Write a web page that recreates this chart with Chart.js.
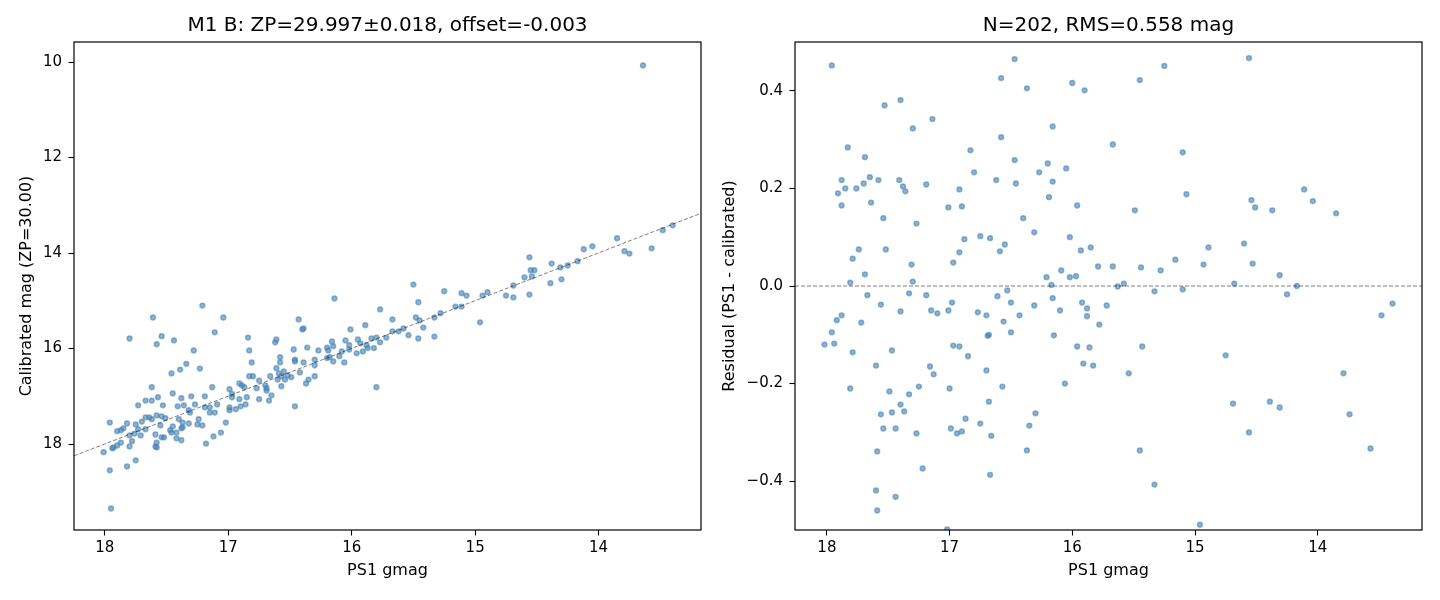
<!DOCTYPE html>
<html>
<head>
<meta charset="utf-8">
<title>M1 B calibration</title>
<script src="https://cdn.jsdelivr.net/npm/chart.js@4.4.1/dist/chart.umd.min.js"></script>
<style>
  html, body { margin: 0; padding: 0; background: #fff; }
  #wrap { position: relative; width: 1440px; height: 600px; }
  .panel { position: absolute; top: 0; width: 720px; height: 600px; }
</style>
</head>
<body>
<div id="wrap">
  <div class="panel" style="left:0"><canvas id="calChart" width="720" height="600"></canvas></div>
  <div class="panel" style="left:720px"><canvas id="resChart" width="720" height="600"></canvas></div>
</div>
<script>
// left panel: PS1 gmag vs calibrated mag
const calGmag = [
  17.21,17.61,17.04,17.80,17.54,17.58,17.44,17.11,16.84,16.83,
  17.28,16.81,17.34,17.39,17.23,17.46,16.83,16.80,17.62,17.45,
  17.13,16.99,16.91,16.89,16.87,16.97,16.97,16.91,16.85,17.67,
  17.62,17.57,17.38,17.30,17.19,17.73,17.53,17.41,17.36,17.27,
  17.19,17.15,17.15,17.11,17.09,16.99,16.99,16.94,16.90,16.86,
  17.67,17.64,17.62,17.58,17.54,17.51,17.40,17.31,17.32,17.96,
  17.82,17.75,17.70,17.55,17.45,17.37,17.32,17.24,17.25,17.21,
  17.02,17.90,17.87,17.85,17.80,17.76,17.73,17.67,17.71,17.59,
  17.54,17.52,17.47,17.46,17.42,17.38,17.37,17.12,17.06,17.87,
  17.93,17.94,17.90,17.80,17.78,17.59,17.58,17.58,17.42,17.38,
  17.18,18.01,17.96,17.82,17.75,17.95,
  15.50,16.14,15.46,15.77,16.43,16.40,16.39,15.89,15.67,15.48,
  16.01,16.62,16.61,16.47,16.36,16.27,16.20,16.16,16.15,16.19,
  16.05,16.02,15.95,15.93,15.84,15.80,15.72,15.67,15.62,15.58,
  15.54,15.46,15.77,15.88,15.87,15.91,15.96,15.82,16.02,16.08,
  16.10,16.15,16.18,16.20,16.30,16.39,16.46,16.46,16.58,16.58,
  16.61,16.55,16.30,16.06,16.75,16.77,16.70,16.69,16.69,16.65,
  16.67,16.75,16.66,16.59,16.57,16.54,16.60,16.52,16.49,16.42,
  16.35,16.37,16.30,16.57,16.46,15.80,
  13.64,15.45,15.42,15.33,15.33,15.28,15.25,15.16,15.11,15.11,
  15.07,14.96,14.94,14.90,14.75,14.69,14.69,14.60,14.56,14.56,
  14.55,14.52,14.54,14.39,14.38,14.30,14.31,14.25,14.17,14.12,
  14.05,13.85,13.79,13.75,13.57,13.48,13.40
];
const calMag = [
  15.10,15.35,15.35,15.79,15.74,15.91,15.83,15.66,15.77,16.04,
  16.04,16.29,16.32,16.44,16.42,16.52,16.58,16.58,16.81,16.94,
  16.81,16.85,16.73,16.77,16.81,16.95,17.02,17.06,17.02,17.09,
  17.09,17.02,17.04,17.00,17.00,17.19,17.19,17.21,17.19,17.17,
  17.23,17.23,17.34,17.34,17.17,17.23,17.29,17.27,17.21,17.17,
  17.44,17.44,17.48,17.40,17.42,17.46,17.48,17.34,17.29,17.55,
  17.57,17.59,17.53,17.61,17.63,17.55,17.57,17.48,17.59,17.61,
  17.55,17.73,17.71,17.67,17.82,17.78,17.69,17.69,17.82,17.80,
  17.86,17.86,17.71,17.76,17.76,17.67,17.65,17.84,17.76,17.97,
  18.07,18.09,18.03,18.05,17.94,18.05,18.07,17.97,17.88,17.92,
  17.99,18.17,18.55,18.47,18.34,19.35,
  14.66,14.95,15.03,15.18,15.39,15.60,15.58,15.51,15.39,15.35,
  15.60,15.87,15.81,16.02,15.98,16.04,15.98,15.85,15.95,16.04,
  15.83,15.93,15.81,15.89,15.79,15.77,15.77,15.64,15.64,15.58,
  15.72,15.79,15.87,15.93,15.99,16.06,16.10,15.99,16.02,16.06,
  16.16,16.27,16.18,16.20,16.23,16.29,16.23,16.27,16.18,16.29,
  16.41,16.48,16.35,16.29,16.67,16.83,16.77,16.83,16.88,16.98,
  17.09,17.06,16.58,16.52,16.58,16.65,16.65,16.56,16.60,16.50,
  16.65,16.73,16.58,16.79,17.21,16.81,
  10.07,15.41,15.56,15.35,15.75,15.26,14.80,15.12,15.12,14.84,
  14.89,15.45,14.89,14.82,14.89,14.93,14.68,14.51,14.09,14.87,
  14.36,14.36,14.49,14.63,14.22,14.55,14.30,14.26,14.17,13.92,
  13.86,13.69,13.96,14.01,13.90,13.52,13.42
];
// fitted relation y = x + offset
const fitX = [18.25, 13.17];
const fitY = [18.247, 13.167];

// right panel: residuals PS1 - calibrated
const resGmag = [
  17.96,17.53,17.40,17.14,17.30,17.83,17.69,17.88,17.85,17.91,
  17.88,17.76,17.70,17.65,17.64,17.58,17.41,17.38,17.36,17.19,
  17.54,17.27,17.01,17.74,17.52,17.79,17.31,16.97,17.69,17.81,17.30,
  17.67,17.56,17.33,17.19,17.40,17.15,17.10,17.01,16.98,17.88,
  17.92,17.72,17.96,18.02,17.94,17.79,17.47,16.97,17.60,17.16,
  17.13,17.81,17.49,17.33,17.25,17.00,17.40,17.47,17.37,17.56,
  17.54,17.44,17.27,16.99,16.94,17.59,17.22,17.60,17.44,17.59,17.02,
  16.47,16.58,16.37,16.00,15.90,16.16,16.58,16.83,15.67,16.47,
  16.20,16.05,16.80,16.27,16.62,16.46,16.16,16.92,16.90,16.19,
  15.96,16.40,16.31,16.88,16.75,16.67,16.55,16.59,16.92,16.02,
  15.93,15.85,15.79,15.67,16.21,16.09,16.02,15.97,16.17,
  16.53,16.61,16.50,16.16,16.31,15.92,15.88,15.72,16.10,16.77,
  16.70,16.43,16.56,15.88,15.78,16.69,16.68,16.50,16.15,15.96,
  15.86,16.92,16.85,15.91,15.83,16.70,16.06,16.57,16.68,16.30,
  16.87,16.75,16.35,16.90,16.66,16.37,16.67,
  14.56,15.25,15.45,15.10,15.07,15.49,14.54,14.51,14.60,14.89,
  15.16,14.93,14.53,15.44,15.28,15.58,14.68,
  15.63,15.33,15.10,15.43,15.54,14.75,14.69,14.56,15.45,15.33,14.96,
  14.11,14.04,14.37,13.85,14.31,14.17,
  14.25,13.39,13.48,13.79,14.39,14.31,13.74,13.57
];
const resVal = [
  0.452,0.370,0.381,0.342,0.323,0.284,0.264,0.217,0.200,0.190,
  0.165,0.200,0.210,0.223,0.171,0.217,0.217,0.204,0.194,0.208,
  0.139,0.128,0.161,0.075,0.075,0.056,0.044,0.048,0.024,0.007,0.009,
  -0.019,-0.038,-0.015,-0.019,-0.052,-0.050,-0.056,-0.050,-0.034,-0.060,
  -0.070,-0.075,-0.095,-0.120,-0.118,-0.136,-0.132,-0.122,-0.163,-0.165,
  -0.181,-0.210,-0.216,-0.222,-0.206,-0.210,-0.243,-0.259,-0.257,-0.263,
  -0.292,-0.292,-0.302,-0.292,-0.302,-0.339,-0.374,-0.419,-0.432,-0.460,-0.499,
  0.465,0.426,0.405,0.416,0.401,0.327,0.305,0.278,0.290,0.258,
  0.251,0.241,0.233,0.233,0.217,0.210,0.214,0.198,0.163,0.182,
  0.165,0.139,0.110,0.096,0.102,0.098,0.085,0.071,0.069,0.100,
  0.073,0.079,0.040,0.040,0.018,0.032,0.018,0.020,0.002,
  -0.009,-0.021,-0.034,-0.025,-0.040,-0.034,-0.046,-0.040,-0.050,-0.054,
  -0.060,-0.060,-0.073,-0.062,-0.079,-0.102,-0.100,-0.095,-0.101,-0.124,
  -0.126,-0.124,-0.144,-0.159,-0.163,-0.173,-0.200,-0.206,-0.237,-0.261,
  -0.272,-0.282,-0.286,-0.298,-0.307,-0.337,-0.387,
  0.467,0.451,0.422,0.274,0.188,0.155,0.176,0.161,0.087,0.079,
  0.054,0.044,0.046,0.038,0.032,0.005,0.005,
  -0.001,-0.011,-0.007,-0.124,-0.179,-0.142,-0.241,-0.300,-0.337,-0.407,-0.489,
  0.198,0.174,0.155,0.149,0.022,0.000,
  -0.017,-0.036,-0.060,-0.179,-0.237,-0.249,-0.263,-0.333
];
const zeroX = [18.26, 13.15];
const zeroY = [0, 0];

// ticks
const xTicks = [18, 17, 16, 15, 14];
const xTickLabels = ['18', '17', '16', '15', '14'];
const magTicks = [10, 12, 14, 16, 18];
const magTickLabels = ['10', '12', '14', '16', '18'];
const resTicks = [-0.4, -0.2, 0, 0.2, 0.4];
const resTickLabels = ['\u22120.4', '\u22120.2', '0.0', '0.2', '0.4'];

Chart.defaults.font.family = '"DejaVu Sans", sans-serif';
Chart.defaults.color = '#000';

const frame = {
  id: 'frame',
  afterDatasetsDraw(chart) {
    const a = chart.chartArea;
    const c = chart.ctx;
    c.save();
    c.strokeStyle = '#000';
    c.lineWidth = 1.2;
    c.strokeRect(a.left, a.top, a.right - a.left, a.bottom - a.top);
    c.restore();
  }
};

function toPoints(xs, ys) {
  return xs.map((x, i) => ({ x: x, y: ys[i] }));
}

function dots(xs, ys) {
  return {
    data: toPoints(xs, ys),
    backgroundColor: 'rgba(70,130,180,0.6)',
    borderColor: 'rgba(70,130,180,0.6)',
    borderWidth: 1.5,
    pointRadius: 2.4,
    pointHoverRadius: 2.4
  };
}

function dashed(xs, ys) {
  return {
    data: toPoints(xs, ys),
    showLine: true,
    pointRadius: 0,
    borderColor: 'rgba(0,0,0,0.5)',
    borderWidth: 1,
    borderDash: [4, 2],
    fill: false
  };
}

function tickGrid() {
  return { display: true, drawOnChartArea: false, drawTicks: true, tickLength: 5.5, tickColor: '#000', tickWidth: 1.1 };
}

function panelOptions(p) {
  return {
    responsive: false,
    animation: false,
    events: [],
    layout: { padding: { left: 0, right: p.padRight, top: 0, bottom: 0 } },
    plugins: {
      legend: { display: false },
      tooltip: { enabled: false },
      title: {
        display: true, text: p.title, fullSize: false, color: '#000',
        font: { size: 20, weight: 'normal' }, padding: { top: 14, bottom: 4 }
      }
    },
    scales: {
      x: {
        type: 'linear', reverse: true, min: p.xMin, max: p.xMax,
        afterFit: s => { s.height = 70; },
        afterBuildTicks: s => { s.ticks = xTicks.map(v => ({ value: v })); },
        ticks: { font: { size: 15 }, padding: 4, maxRotation: 0,
                 callback: v => xTickLabels[xTicks.indexOf(v)] },
        grid: tickGrid(),
        border: { display: false },
        title: { display: true, text: 'PS1 gmag', font: { size: 16 }, padding: { top: 0, bottom: 20 } }
      },
      y: {
        type: 'linear', reverse: p.yReverse, min: p.yMin, max: p.yMax,
        afterFit: s => { s.width = p.yWidth; },
        afterBuildTicks: s => { s.ticks = p.yTicks.map(v => ({ value: v })); },
        ticks: { font: { size: 15 }, padding: 6.5,
                 callback: v => p.yLabels[p.yTicks.indexOf(v)] },
        grid: tickGrid(),
        border: { display: false },
        title: { display: true, text: p.yTitle, font: { size: 16 }, padding: { top: p.yTitlePad, bottom: 0 } }
      }
    }
  };
}

new Chart(document.getElementById('calChart'), {
  type: 'scatter',
  data: { datasets: [dashed(fitX, fitY), dots(calGmag, calMag)] },
  options: panelOptions({
    title: 'M1 B: ZP=29.997\u00b10.018, offset=-0.003',
    padRight: 19, xMin: 13.17, xMax: 18.25,
    yMin: 9.58, yMax: 19.8, yReverse: true, yWidth: 74,
    yTicks: magTicks, yLabels: magTickLabels,
    yTitle: 'Calibrated mag (ZP=30.00)', yTitlePad: 17
  }),
  plugins: [frame]
});

new Chart(document.getElementById('resChart'), {
  type: 'scatter',
  data: { datasets: [dashed(zeroX, zeroY), dots(resGmag, resVal)] },
  options: panelOptions({
    title: 'N=202, RMS=0.558 mag',
    padRight: 18, xMin: 13.15, xMax: 18.26,
    yMin: -0.5, yMax: 0.5, yReverse: false, yWidth: 75,
    yTicks: resTicks, yLabels: resTickLabels,
    yTitle: 'Residual (PS1 - calibrated)', yTitlePad: 0
  }),
  plugins: [frame]
});
</script>
</body>
</html>
